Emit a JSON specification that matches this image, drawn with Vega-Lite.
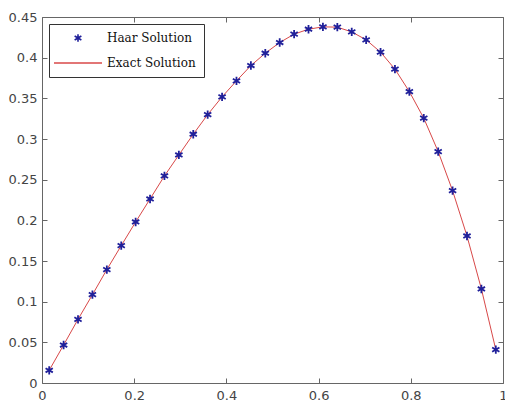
{
  "$schema": "https://vega.github.io/schema/vega-lite/v6.json",
  "width": 461,
  "height": 366,
  "autosize": "none",
  "padding": {"left": 42, "top": 17, "right": 2, "bottom": 18},
  "background": "white",
  "config": {
    "view": {"stroke": null},
    "axis": {"grid": false, "domainColor": "#666", "tickColor": "#666", "labelColor": "#444", "labelFont": "DejaVu Sans", "labelFontSize": 13, "title": null, "tickSize": -5, "format": ".2~f"}
  },
  "datasets": {
    "haar": [
      {"x": 0.015625, "y": 0.0156, "series": "Haar Solution"},
      {"x": 0.046875, "y": 0.0467, "series": "Haar Solution"},
      {"x": 0.078125, "y": 0.0783, "series": "Haar Solution"},
      {"x": 0.109375, "y": 0.1086, "series": "Haar Solution"},
      {"x": 0.140625, "y": 0.1394, "series": "Haar Solution"},
      {"x": 0.171875, "y": 0.1689, "series": "Haar Solution"},
      {"x": 0.203125, "y": 0.198, "series": "Haar Solution"},
      {"x": 0.234375, "y": 0.2263, "series": "Haar Solution"},
      {"x": 0.265625, "y": 0.2546, "series": "Haar Solution"},
      {"x": 0.296875, "y": 0.2804, "series": "Haar Solution"},
      {"x": 0.328125, "y": 0.3059, "series": "Haar Solution"},
      {"x": 0.359375, "y": 0.330, "series": "Haar Solution"},
      {"x": 0.390625, "y": 0.3518, "series": "Haar Solution"},
      {"x": 0.421875, "y": 0.3715, "series": "Haar Solution"},
      {"x": 0.453125, "y": 0.3903, "series": "Haar Solution"},
      {"x": 0.484375, "y": 0.4055, "series": "Haar Solution"},
      {"x": 0.515625, "y": 0.4186, "series": "Haar Solution"},
      {"x": 0.546875, "y": 0.4289, "series": "Haar Solution"},
      {"x": 0.578125, "y": 0.435, "series": "Haar Solution"},
      {"x": 0.609375, "y": 0.4379, "series": "Haar Solution"},
      {"x": 0.640625, "y": 0.4375, "series": "Haar Solution"},
      {"x": 0.671875, "y": 0.4317, "series": "Haar Solution"},
      {"x": 0.703125, "y": 0.4219, "series": "Haar Solution"},
      {"x": 0.734375, "y": 0.4068, "series": "Haar Solution"},
      {"x": 0.765625, "y": 0.3859, "series": "Haar Solution"},
      {"x": 0.796875, "y": 0.3583, "series": "Haar Solution"},
      {"x": 0.828125, "y": 0.3256, "series": "Haar Solution"},
      {"x": 0.859375, "y": 0.2845, "series": "Haar Solution"},
      {"x": 0.890625, "y": 0.2365, "series": "Haar Solution"},
      {"x": 0.921875, "y": 0.1808, "series": "Haar Solution"},
      {"x": 0.953125, "y": 0.1156, "series": "Haar Solution"},
      {"x": 0.984375, "y": 0.041, "series": "Haar Solution"}
    ],
    "exact": [
      {"x": 0.015625, "y": 0.0156, "series": "Exact Solution"},
      {"x": 0.046875, "y": 0.0467, "series": "Exact Solution"},
      {"x": 0.078125, "y": 0.0783, "series": "Exact Solution"},
      {"x": 0.109375, "y": 0.1086, "series": "Exact Solution"},
      {"x": 0.140625, "y": 0.1394, "series": "Exact Solution"},
      {"x": 0.171875, "y": 0.1689, "series": "Exact Solution"},
      {"x": 0.203125, "y": 0.198, "series": "Exact Solution"},
      {"x": 0.234375, "y": 0.2263, "series": "Exact Solution"},
      {"x": 0.265625, "y": 0.2546, "series": "Exact Solution"},
      {"x": 0.296875, "y": 0.2804, "series": "Exact Solution"},
      {"x": 0.328125, "y": 0.3059, "series": "Exact Solution"},
      {"x": 0.359375, "y": 0.330, "series": "Exact Solution"},
      {"x": 0.390625, "y": 0.3518, "series": "Exact Solution"},
      {"x": 0.421875, "y": 0.3715, "series": "Exact Solution"},
      {"x": 0.453125, "y": 0.3903, "series": "Exact Solution"},
      {"x": 0.484375, "y": 0.4055, "series": "Exact Solution"},
      {"x": 0.515625, "y": 0.4186, "series": "Exact Solution"},
      {"x": 0.546875, "y": 0.4289, "series": "Exact Solution"},
      {"x": 0.578125, "y": 0.435, "series": "Exact Solution"},
      {"x": 0.609375, "y": 0.4379, "series": "Exact Solution"},
      {"x": 0.640625, "y": 0.4375, "series": "Exact Solution"},
      {"x": 0.671875, "y": 0.4317, "series": "Exact Solution"},
      {"x": 0.703125, "y": 0.4219, "series": "Exact Solution"},
      {"x": 0.734375, "y": 0.4068, "series": "Exact Solution"},
      {"x": 0.765625, "y": 0.3859, "series": "Exact Solution"},
      {"x": 0.796875, "y": 0.3583, "series": "Exact Solution"},
      {"x": 0.828125, "y": 0.3256, "series": "Exact Solution"},
      {"x": 0.859375, "y": 0.2845, "series": "Exact Solution"},
      {"x": 0.890625, "y": 0.2365, "series": "Exact Solution"},
      {"x": 0.921875, "y": 0.1808, "series": "Exact Solution"},
      {"x": 0.953125, "y": 0.1156, "series": "Exact Solution"},
      {"x": 0.984375, "y": 0.041, "series": "Exact Solution"}
    ]
  },
  "resolve": {"axis": {"x": "independent", "y": "independent"}},
  "layer": [
    {
      "data": {"name": "exact"},
      "mark": {"type": "line", "strokeWidth": 1, "clip": false},
      "encoding": {
        "x": {"field": "x", "type": "quantitative", "scale": {"domain": [0, 1], "nice": false}, "axis": {"orient": "top", "labels": false, "values": [0, 0.2, 0.4, 0.6, 0.8, 1]}},
        "y": {"field": "y", "type": "quantitative", "scale": {"domain": [0, 0.45], "nice": false}, "axis": {"orient": "right", "labels": false, "values": [0, 0.05, 0.1, 0.15, 0.2, 0.25, 0.3, 0.35, 0.4, 0.45]}},
        "color": {"field": "series", "type": "nominal", "scale": {"domain": ["Haar Solution", "Exact Solution"], "range": ["#20209a", "#d84848"]}}
      }
    },
    {
      "data": {"name": "haar"},
      "mark": {"type": "point", "filled": false, "strokeWidth": 1.8, "size": 70, "opacity": 1},
      "encoding": {
        "x": {"field": "x", "type": "quantitative", "axis": {"orient": "bottom", "values": [0, 0.2, 0.4, 0.6, 0.8, 1], "labelPadding": 11, "labelFlush": false}},
        "y": {"field": "y", "type": "quantitative", "axis": {"orient": "left", "values": [0, 0.05, 0.1, 0.15, 0.2, 0.25, 0.3, 0.35, 0.4, 0.45], "labelPadding": 10}},
        "color": {"field": "series", "type": "nominal", "legend": {
          "orient": "top-left", "offset": 7, "title": null,
          "strokeColor": "#333", "fillColor": "white", "padding": 8,
          "labelFont": "DejaVu Serif", "labelFontSize": 12, "labelColor": "#111",
          "symbolSize": 60, "symbolStrokeWidth": 1.6, "symbolOffset": 15, "labelOffset": 23, "rowPadding": 11
        }},
        "shape": {"field": "series", "type": "nominal", "scale": {"domain": ["Haar Solution", "Exact Solution"], "range": ["M0,-1L0,1M-0.87,-0.5L0.87,0.5M-0.87,0.5L0.87,-0.5", "M-6.2,0L6.2,0"]}}
      }
    }
  ]
}
